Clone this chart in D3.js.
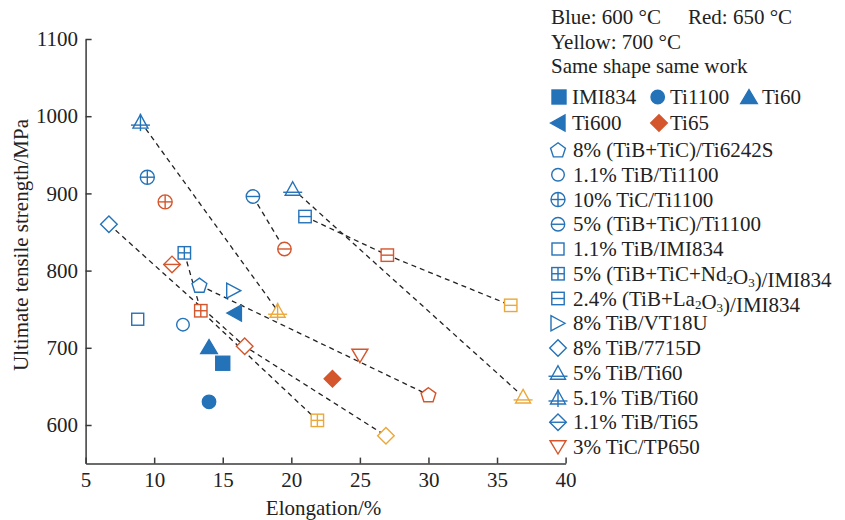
<!DOCTYPE html>
<html><head><meta charset="utf-8">
<script src="https://cdn.jsdelivr.net/npm/d3@7"></script>
<style>
body{margin:0;background:#fff}
text{font-family:"Liberation Serif","Times New Roman",serif;fill:#222}
</style>
</head><body>
<svg id="c" width="845" height="520"></svg>
<script>
// ---------- data ----------
const xTicks = [5,10,15,20,25,30,35,40];
const yTicks = [600,700,800,900,1000,1100];
const temps = [600,650,700];
const tempColors = ["#2472b8","#d4562c","#eba83a"];

const headerLines = ["Blue: 600 °C","Red: 650 °C","Yellow: 700 °C","Same shape same work"];

const matrixNames  = ["IMI834","Ti1100","Ti60","Ti600","Ti65"];
const matrixShapes = ["square","circle","triUp","triLeft","diamond"];
const matrixTemp   = [600,600,600,600,650];
const matrixElong  = [15,14,14,15.85,23];
const matrixUTS    = [680,630,701,745,660];

const compNames = [
  "8% (TiB+TiC)/Ti6242S",
  "1.1% TiB/Ti1100",
  "10% TiC/Ti1100",
  "5% (TiB+TiC)/Ti1100",
  "1.1% TiB/IMI834",
  "5% (TiB+TiC+Nd_2O_3)/IMI834",
  "2.4% (TiB+La_2O_3)/IMI834",
  "8% TiB/VT18U",
  "8% TiB/7715D",
  "5% TiB/Ti60",
  "5.1% TiB/Ti60",
  "1.1% TiB/Ti65",
  "3% TiC/TP650"
];
const compShapes = ["pentagon","circle","circlePlus","circleMinus","square","squarePlus","squareMinus","triRight","diamond","triMinus","triPlus","diamondMinus","triDown"];
const compLegendTemp = [600,600,600,600,600,600,600,600,600,600,600,600,650];
const elong600 = [13.3,12.1,9.5,17.2,8.8,12.2,21.0,15.8,6.7,20.1,9.0,null,null];
const uts600   = [781,730,921,896,737,823,870,774,860,906,993,null,null];
const elong650 = [30.0,null,10.8,19.5,null,13.4,27.0,null,16.6,null,null,11.3,25.0];
const uts650   = [639,null,889,828,null,748,820,null,702,null,null,808,690];
const elong700 = [null,null,null,null,null,21.9,36.0,null,26.9,36.9,19.0,null,null];
const uts700   = [null,null,null,null,null,606,755,null,586,637,748,null,null];
const linked   = [true,false,false,true,false,true,true,false,true,true,true,false,false];

// ---------- layout ----------
const svg = d3.select("#c");
const L = 85.6, R = 565.6, T = 39, B = 463.6;
const x = d3.scaleLinear().domain([5,40]).range([L,R]);
const y = d3.scaleLinear().domain([550,1100]).range([B,T]);
const colorOf = t => tempColors[temps.indexOf(t)];
const FS = 21;

// axes
const ax = svg.append("g").attr("transform",`translate(0,${B})`)
  .call(d3.axisBottom(x).tickValues(xTicks).tickSizeInner(-6).tickSizeOuter(0).tickPadding(8.5).tickFormat(d3.format("d")));
const ay = svg.append("g").attr("transform",`translate(${L},0)`)
  .call(d3.axisLeft(y).tickValues(yTicks).tickSizeInner(-6).tickSizeOuter(0).tickPadding(7.6).tickFormat(d3.format("d")));
[ax,ay].forEach(a=>{
  a.select(".domain").attr("stroke","#3a3a3a").attr("stroke-width",1.5);
  a.selectAll(".tick line").attr("stroke","#3a3a3a").attr("stroke-width",1.5);
  a.selectAll(".tick text").attr("font-size",FS).attr("font-family","Liberation Serif").attr("fill","#222");
});
svg.append("text").attr("x",(L+R)/2 - 2).attr("y",515).attr("text-anchor","middle").attr("font-size",FS).text("Elongation/%");
svg.append("text").attr("transform","translate(28,245) rotate(-90)").attr("text-anchor","middle").attr("font-size",FS).text("Ultimate tensile strength/MPa");

// ---------- markers ----------
function poly(pts){return "M"+pts.map(p=>p.join(",")).join("L")+"Z";}
function drawMarker(g, shape, color, filled){
  const sw = 1.4;
  const fill = filled ? color : "#fff";
  const add = (tag)=>g.append(tag).attr("fill",fill).attr("stroke",color).attr("stroke-width",sw);
  const line = (x1,y1,x2,y2)=>g.append("line").attr("x1",x1).attr("y1",y1).attr("x2",x2).attr("y2",y2).attr("stroke",color).attr("stroke-width",sw);
  switch(shape){
    case "square": { const s = filled?7:6; add("rect").attr("x",-s).attr("y",-s).attr("width",2*s).attr("height",2*s); break; }
    case "squarePlus": add("rect").attr("x",-6.2).attr("y",-6.2).attr("width",12.4).attr("height",12.4); line(-6.2,0,6.2,0); line(0,-6.2,0,6.2); break;
    case "squareMinus": add("rect").attr("x",-6.2).attr("y",-6.2).attr("width",12.4).attr("height",12.4); line(-6.2,0,6.2,0); break;
    case "circle": add("circle").attr("r",filled?6.7:6.3); break;
    case "circlePlus": add("circle").attr("r",7); line(-7,0,7,0); line(0,-7,0,7); break;
    case "circleMinus": add("circle").attr("r",6.7); line(-6.7,0,6.7,0); break;
    case "triUp": add("path").attr("d",poly([[0,-7.5],[8.3,6.5],[-8.3,6.5]])); break;
    case "triLeft": add("path").attr("d",poly([[-7.5,0],[7,-8],[7,8]])); break;
    case "triRight": add("path").attr("d",poly([[7,0],[-7,-7.5],[-7,7.5]])); break;
    case "triDown": add("path").attr("d",poly([[0,7],[-8,-6.3],[8,-6.3]])); break;
    case "triMinus": add("path").attr("d",poly([[0,-7],[7.5,6.5],[-7.5,6.5]])); line(-9.5,3.5,9.5,3.5); break;
    case "triPlus": add("path").attr("d",poly([[0,-7],[7.5,6.5],[-7.5,6.5]])); line(-9.5,3.5,9.5,3.5); line(0,-8,0,9.5); break;
    case "diamond": add("path").attr("d",poly([[0,-8.3],[8.3,0],[0,8.3],[-8.3,0]])); break;
    case "diamondMinus": add("path").attr("d",poly([[0,-8.3],[8.3,0],[0,8.3],[-8.3,0]])); line(-8.3,0,8.3,0); break;
    case "pentagon": {
      const r=7.8; const pts=d3.range(5).map(i=>{const a=-Math.PI/2+i*2*Math.PI/5;return [r*Math.cos(a),r*Math.sin(a)+0.6];});
      add("path").attr("d",poly(pts)); break;
    }
  }
}

// ---------- dashed links ----------
const elongBy = [elong600,elong650,elong700];
const utsBy = [uts600,uts650,uts700];
const lineGen = d3.line().x(d=>x(d[0])).y(d=>y(d[1]));
compNames.forEach((n,i)=>{
  if(!linked[i]) return;
  const pts = temps.map((t,k)=>[elongBy[k][i],utsBy[k][i]]).filter(p=>p[0]!=null);
  svg.append("path").attr("d",lineGen(pts)).attr("fill","none").attr("stroke","#222")
    .attr("stroke-width",1.3).attr("stroke-dasharray","5,4");
});

// ---------- points ----------
compNames.forEach((n,i)=>{
  temps.forEach((t,k)=>{
    const e = elongBy[k][i], s = utsBy[k][i];
    if(e==null) return;
    const g = svg.append("g").attr("transform",`translate(${x(e)},${y(s)})`);
    drawMarker(g, compShapes[i], tempColors[k], false);
  });
});
matrixNames.forEach((n,i)=>{
  const g = svg.append("g").attr("transform",`translate(${x(matrixElong[i])},${y(matrixUTS[i])})`);
  drawMarker(g, matrixShapes[i], colorOf(matrixTemp[i]), true);
});

// ---------- legend ----------
function richText(sel, str){
  const parts = str.split(/(_\d)/);
  parts.forEach(p=>{
    if(p.startsWith("_")){
      sel.append("tspan").attr("font-size",13).attr("dy",3).text(p.slice(1));
      sel.append("tspan").attr("dy",-3).text("");
    } else if(p.length) sel.append("tspan").text(p);
  });
}
const lg = svg.append("g");
lg.append("text").attr("x",551).attr("y",24).attr("font-size",FS).text(headerLines[0]);
lg.append("text").attr("x",688).attr("y",24).attr("font-size",FS).text(headerLines[1]);
lg.append("text").attr("x",551).attr("y",48.5).attr("font-size",FS).text(headerLines[2]);
lg.append("text").attr("x",551).attr("y",73).attr("font-size",FS).text(headerLines[3]);

const matrixLegendX = [[559,572],[657.7,670],[749,762],[558,572],[659,670]];
const matrixLegendRow = [0,0,0,1,1];
const matrixRowY = [97,123];
matrixNames.forEach((n,i)=>{
  const cy = matrixRowY[matrixLegendRow[i]];
  const g = lg.append("g").attr("transform",`translate(${matrixLegendX[i][0]},${cy})`);
  drawMarker(g, matrixShapes[i], colorOf(matrixTemp[i]), true);
  lg.append("text").attr("x",matrixLegendX[i][1]).attr("y",cy+7).attr("font-size",FS).text(n);
});
compNames.forEach((n,i)=>{
  const cy = 150 + i*24.75;
  const g = lg.append("g").attr("transform",`translate(558,${cy})`);
  drawMarker(g, compShapes[i], colorOf(compLegendTemp[i]), false);
  const t = lg.append("text").attr("x",573).attr("y",cy+7).attr("font-size",FS);
  richText(t, n);
});
</script>
</body></html>
